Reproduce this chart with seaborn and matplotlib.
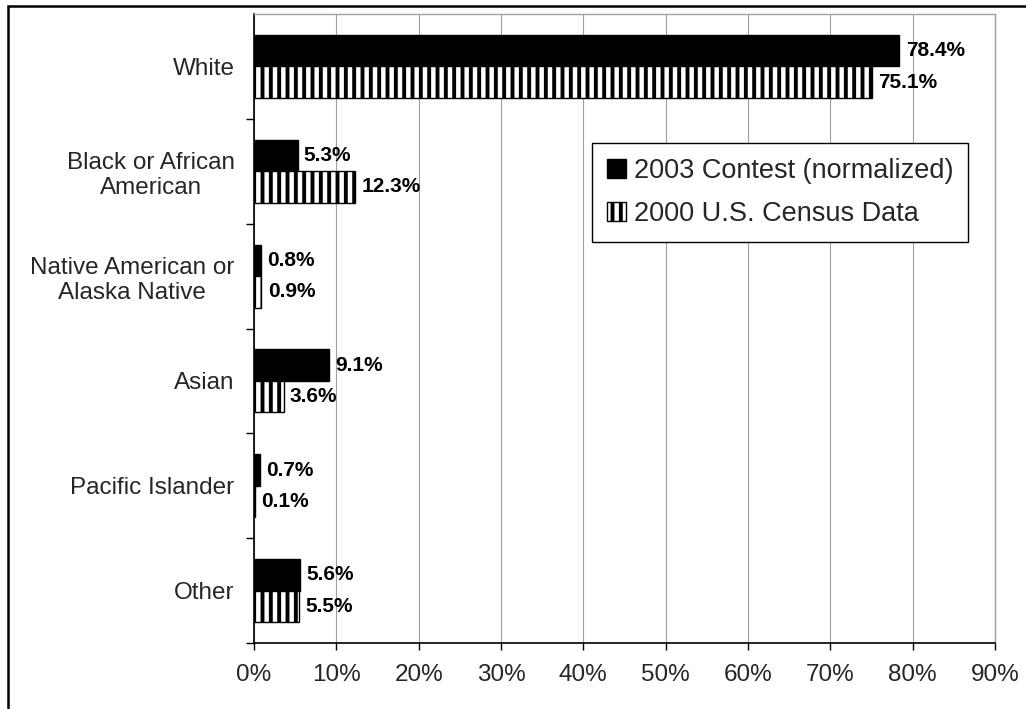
import matplotlib
matplotlib.use("Agg")
import matplotlib.pyplot as plt
import matplotlib.patches as mpatches
from matplotlib.ticker import FixedLocator
import numpy as np
import pandas as pd
import seaborn as sns

# Race / ethnicity shares (percent)
groups = ["White", "Black or African\nAmerican", "Native American or\nAlaska Native",
          "Asian", "Pacific Islander", "Other"]
contest_2003 = [78.4, 5.3, 0.8, 9.1, 0.7, 5.6]
census_2000 = [75.1, 12.3, 0.9, 3.6, 0.1, 5.5]
series_names = ["2003 Contest (normalized)", "2000 U.S. Census Data"]
x_ticks = [0, 10, 20, 30, 40, 50, 60, 70, 80, 90]

df = pd.DataFrame({
    "group": groups * 2,
    "pct": contest_2003 + census_2000,
    "series": [series_names[0]] * len(groups) + [series_names[1]] * len(groups),
})

sns.set_theme(style="white")
plt.rcParams["font.family"] = ["Liberation Sans", "DejaVu Sans"]
plt.rcParams["hatch.linewidth"] = 2.8
plt.rcParams["hatch.color"] = "black"

fig = plt.figure(figsize=(10.26, 7.09), dpi=100)
ax = fig.add_axes([254 / 1026, 66 / 709, 741 / 1026, 629 / 709])

sns.barplot(data=df, x="pct", y="group", hue="series", order=groups,
            hue_order=series_names, palette=["black", "white"],
            edgecolor="black", linewidth=1.0, width=0.6, legend=False, ax=ax)

# stripe the census bars
for bar in ax.containers[1]:
    bar.set_hatch("||")

for cont in ax.containers:
    ax.bar_label(cont, fmt="%.1f%%", padding=4.5, fontsize=15,
                 fontweight="bold", color="black")

ax.set_xlim(0, 90)
ax.set_ylim(len(groups) - 0.5, -0.5)
ax.set_xticks(x_ticks)
ax.set_xticklabels([f"{t}%" for t in x_ticks], fontsize=17.5)
ax.set_xlabel("")
ax.set_ylabel("")

ax.xaxis.grid(True, color="#a0a0a0", linewidth=0.8)
ax.yaxis.grid(False)
ax.set_axisbelow(True)

ax.tick_params(axis="x", which="major", direction="out", length=5, width=1,
               color="black", pad=10, bottom=True)
ax.tick_params(axis="y", which="major", length=0, pad=14, labelsize=17.5)
ax.yaxis.set_minor_locator(FixedLocator(np.arange(0.5, len(groups) + 0.5, 1.0)))
ax.tick_params(axis="y", which="minor", direction="out", length=6, width=1,
               color="black", left=True)
for lab in ax.get_yticklabels():
    lab.set_multialignment("center")

for side in ("left", "bottom"):
    ax.spines[side].set_color("black")
    ax.spines[side].set_linewidth(1.2)
for side in ("top", "right"):
    ax.spines[side].set_visible(True)
    ax.spines[side].set_color("#a0a0a0")
    ax.spines[side].set_linewidth(1.0)

handles = [
    mpatches.Patch(facecolor="black", edgecolor="black", linewidth=1.0),
    mpatches.Patch(facecolor="white", edgecolor="black", linewidth=1.0, hatch="||"),
]
leg = ax.legend(handles, series_names, loc="upper left",
                bbox_to_anchor=(0.456, 0.795), borderaxespad=0, fontsize=19.5,
                frameon=True, fancybox=False, framealpha=1, edgecolor="black",
                handlelength=0.7, handleheight=0.7, handletextpad=0.3,
                labelspacing=0.62, borderpad=0.55)
leg.get_frame().set_linewidth(1.0)

# outer frame around the chart
fig.patches.append(mpatches.Rectangle((7.5 / 1026, -0.05), 1.2, 1.05 - 6 / 709,
                                      transform=fig.transFigure, fill=False,
                                      edgecolor="black", linewidth=1.8))

fig.savefig("out.png", dpi=100, facecolor="white")
